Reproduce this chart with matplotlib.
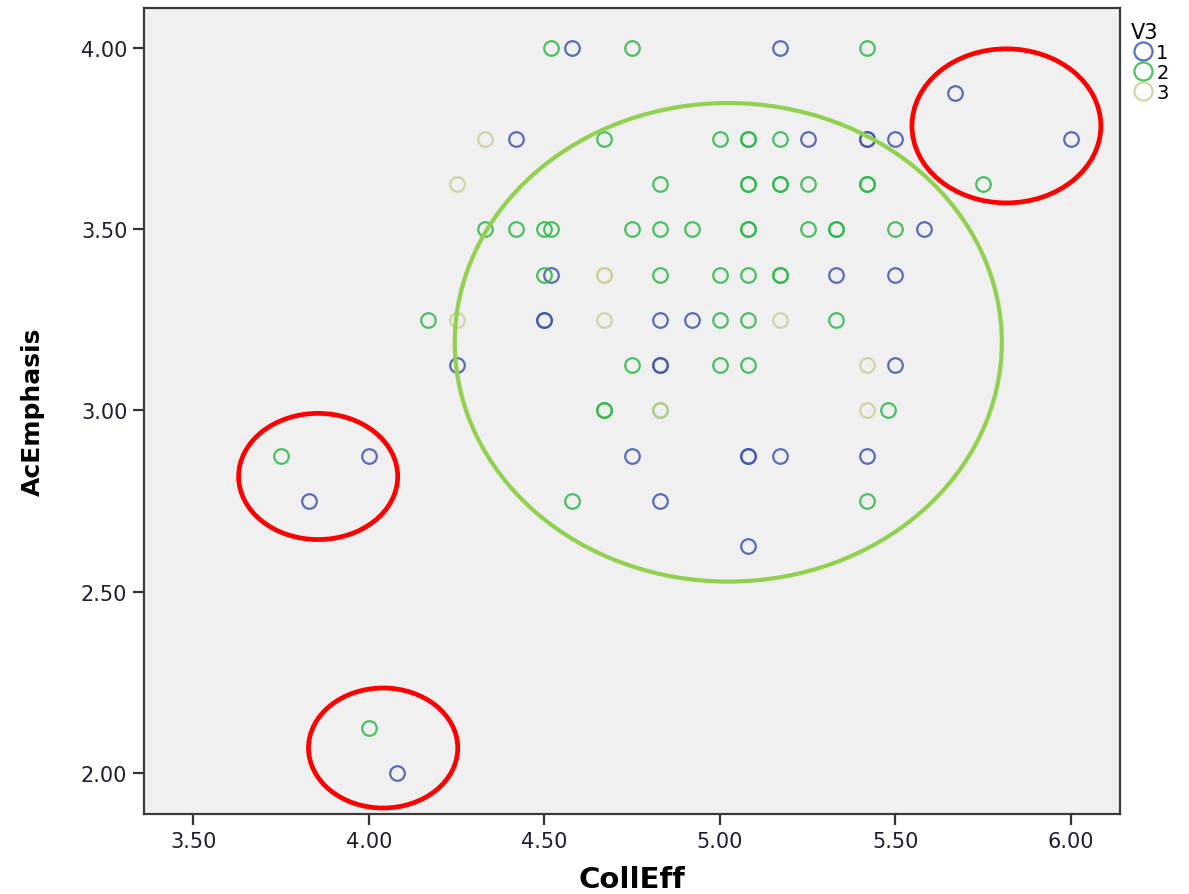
"""SPSS-style scatter of AcEmphasis vs CollEff grouped by V3, with hand-drawn ellipse notes."""

import matplotlib
matplotlib.use("Agg")
import matplotlib.pyplot as plt
from matplotlib.patches import Ellipse
from matplotlib.lines import Line2D


# V3 = 1 (blue); repeated points are cases that share a position
v1_colleff = [4.58, 5.17, 5.67, 4.42, 5.25, 5.42, 5.42, 5.50, 6.00, 5.58,
              4.52, 5.33, 5.50, 4.50, 4.50, 4.83, 4.92, 4.25, 4.83, 4.83,
              5.50, 4.75, 5.08, 5.08, 5.17, 5.42, 4.00, 3.83, 4.83, 5.08, 4.08]
v1_acemph = [4.00, 4.00, 3.875, 3.75, 3.75, 3.75, 3.75, 3.75, 3.75, 3.50,
             3.375, 3.375, 3.375, 3.25, 3.25, 3.25, 3.25, 3.125, 3.125, 3.125,
             3.125, 2.875, 2.875, 2.875, 2.875, 2.875, 2.875, 2.75, 2.75, 2.625, 2.00]

# V3 = 2 (green)
v2_colleff = [4.52, 4.75, 5.42, 4.67, 5.00, 5.08, 5.08, 5.17,
              4.83, 5.08, 5.08, 5.17, 5.17, 5.25, 5.42, 5.42, 5.75,
              4.33, 4.42, 4.50, 4.52, 4.75, 4.83, 4.92, 5.08, 5.08, 5.25, 5.33, 5.33, 5.50,
              4.50, 4.83, 5.00, 5.08, 5.17, 5.17,
              4.17, 5.00, 5.08, 5.33,
              4.75, 5.00, 5.08,
              4.67, 4.67, 4.83, 5.48,
              3.75, 4.58, 5.42, 4.00]
v2_acemph = [4.00, 4.00, 4.00, 3.75, 3.75, 3.75, 3.75, 3.75,
             3.625, 3.625, 3.625, 3.625, 3.625, 3.625, 3.625, 3.625, 3.625,
             3.50, 3.50, 3.50, 3.50, 3.50, 3.50, 3.50, 3.50, 3.50, 3.50, 3.50, 3.50, 3.50,
             3.375, 3.375, 3.375, 3.375, 3.375, 3.375,
             3.25, 3.25, 3.25, 3.25,
             3.125, 3.125, 3.125,
             3.00, 3.00, 3.00, 3.00,
             2.875, 2.75, 2.75, 2.125]

# V3 = 3 (tan)
v3_colleff = [4.33, 4.25, 4.67, 4.67, 4.25, 4.67, 5.17, 5.42, 4.83, 5.42]
v3_acemph = [3.75, 3.625, 3.375, 3.375, 3.25, 3.25, 3.25, 3.125, 3.00, 3.00]

group_labels = ["1", "2", "3"]
group_colors = ["#3F55B0", "#2DB84A", "#D2CC98"]

x_ticks = [3.5, 4.0, 4.5, 5.0, 5.5, 6.0]
y_ticks = [2.0, 2.5, 3.0, 3.5, 4.0]

# annotation ellipses drawn over the chart: (centre x, centre y, width, height)
red_notes = [(5.816, 3.785, 0.538, 0.425),
             (3.856, 2.818, 0.453, 0.348),
             (4.041, 2.069, 0.425, 0.331)]
green_note = (5.024, 3.188, 1.558, 1.320)


def main():
    fig = plt.figure(figsize=(11.89, 8.95), dpi=100)
    ax = fig.add_axes([0.1211, 0.0894, 0.821, 0.9005])
    ax.set_facecolor("#F0F0F0")

    groups = [(v1_colleff, v1_acemph), (v2_colleff, v2_acemph), (v3_colleff, v3_acemph)]
    for (xs, ys), col in zip(groups, group_colors):
        ax.plot(xs, ys, linestyle="none", marker="o", markersize=10.5,
                markerfacecolor="none", markeredgecolor=col, markeredgewidth=1.6,
                alpha=0.85, zorder=3)

    ax.add_patch(Ellipse(green_note[:2], green_note[2], green_note[3], fill=False,
                         edgecolor="#92D050", linewidth=3.0, zorder=4))
    for cx, cy, w, h in red_notes:
        ax.add_patch(Ellipse((cx, cy), w, h, fill=False, edgecolor="#FF0000",
                             linewidth=3.4, zorder=4))

    ax.set_xlim(3.36, 6.14)
    ax.set_ylim(1.887, 4.11)
    ax.set_xticks(x_ticks)
    ax.set_yticks(y_ticks)
    ax.set_xticklabels([f"{v:.2f}" for v in x_ticks])
    ax.set_yticklabels([f"{v:.2f}" for v in y_ticks])
    ax.tick_params(length=8, width=1.6, color="#333333", labelsize=15,
                   labelcolor="#1E1E30", pad=4)
    for sp in ax.spines.values():
        sp.set_color("#3A3A3A")
        sp.set_linewidth(1.6)

    ax.set_xlabel("CollEff", fontsize=21, fontweight="bold", labelpad=10)
    ax.set_ylabel("AcEmphasis", fontsize=18, fontweight="bold", labelpad=26)

    handles = [Line2D([], [], linestyle="none", marker="o", markersize=13,
                      markerfacecolor="none", markeredgecolor=c, markeredgewidth=1.6,
                      alpha=0.85)
               for c in group_colors]
    leg = fig.legend(handles, group_labels, title="V3", loc="upper left",
                     bbox_to_anchor=(0.943, 0.985), frameon=False, fontsize=14,
                     title_fontsize=15, handletextpad=0.1, labelspacing=0.05,
                     borderpad=0.0, handlelength=1.2)
    leg._legend_box.align = "left"

    fig.savefig("out.png", dpi=100)
    plt.close(fig)


if __name__ == "__main__":
    main()
